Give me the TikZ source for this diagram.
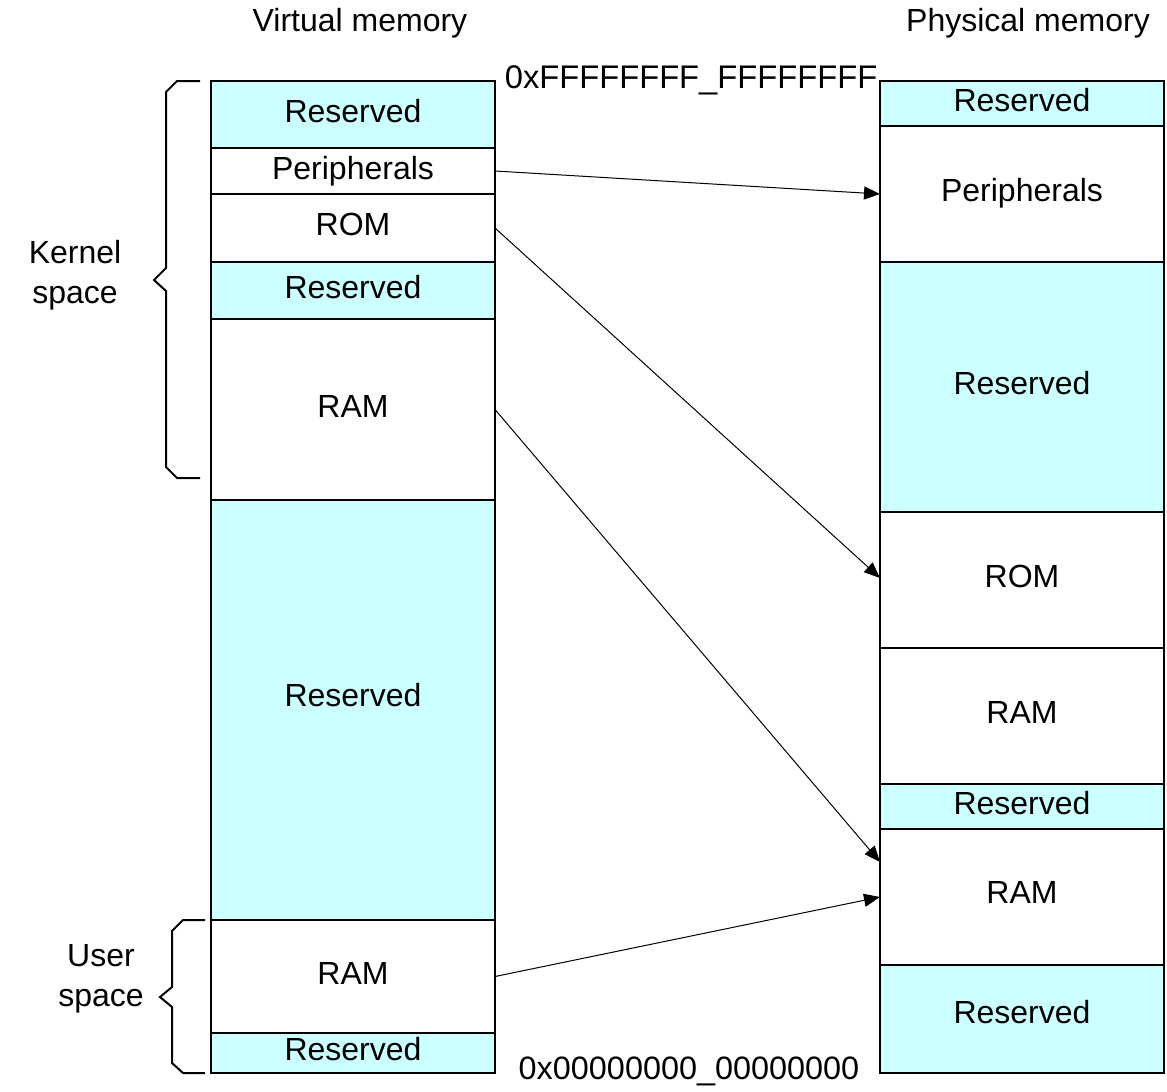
\documentclass[tikz,border=0pt]{standalone}
\usepackage{fontspec}
\setmainfont{Liberation Sans}
\usetikzlibrary{arrows.meta}
\definecolor{cyanfill}{HTML}{CCFFFF}
\begin{document}
\begin{tikzpicture}[x=1pt,y=-1pt,
  mem/.style={draw, line width=2pt, minimum width=284pt, inner sep=0pt, outer sep=0pt},
  res/.style={mem, fill=cyanfill},
  txt/.style={inner sep=0pt, text height=23pt, text depth=0pt, anchor=center, font=\fontsize{32}{38}\selectfont},
  conn/.style={line width=1pt, -{Triangle[length=16pt,width=13pt]}},
  brace/.style={line width=2pt, line join=miter}]
\useasboundingbox (0,0) rectangle (1167,1092);
% virtual column (x 211-495)
\node[res, minimum height=67pt]  (vRes1) at (353,114.5) {};
\node[mem, minimum height=46pt]  (vPer)  at (353,171) {};
\node[mem, minimum height=68pt]  (vROM)  at (353,228) {};
\node[res, minimum height=57pt]  (vRes2) at (353,290.5) {};
\node[mem, minimum height=181pt] (vRAM)  at (353,409.5) {};
\node[res, minimum height=420pt] (vRes3) at (353,710) {};
\node[mem, minimum height=113pt] (vURAM) at (353,976.5) {};
\node[res, minimum height=40pt]  (vRes4) at (353,1053) {};
% physical column (x 880-1164)
\node[res, minimum height=45pt]  (pRes1) at (1022,103.5) {};
\node[mem, minimum height=136pt] (pPer)  at (1022,194) {};
\node[res, minimum height=250pt] (pRes2) at (1022,387) {};
\node[mem, minimum height=136pt] (pROM)  at (1022,580) {};
\node[mem, minimum height=136pt] (pRAM1) at (1022,716) {};
\node[res, minimum height=45pt]  (pRes3) at (1022,806.5) {};
\node[mem, minimum height=136pt] (pRAM2) at (1022,897) {};
\node[res, minimum height=108pt] (pRes4) at (1022,1019) {};
% texts
\node[txt] (tvRes1) at (353,111) {Reserved};
\node[txt] (tvPer)  at (353,168) {Peripherals};
\node[txt] (tvROM)  at (353,224) {ROM};
\node[txt] (tvRes2) at (353,287) {Reserved};
\node[txt] (tvRAM)  at (353,406) {RAM};
\node[txt] (tvRes3) at (353,695) {Reserved};
\node[txt] (tvURAM) at (353,973) {RAM};
\node[txt] (tvRes4) at (353,1049) {Reserved};
\node[txt] (tpRes1) at (1022,100) {Reserved};
\node[txt] (tpPer)  at (1022,190) {Peripherals};
\node[txt] (tpRes2) at (1022,383) {Reserved};
\node[txt] (tpROM)  at (1022,576) {ROM};
\node[txt] (tpRAM1) at (1022,712) {RAM};
\node[txt] (tpRes3) at (1022,803) {Reserved};
\node[txt] (tpRAM2) at (1022,892) {RAM};
\node[txt] (tpRes4) at (1022,1012) {Reserved};
% headings
\node[txt] (hVirt) at (360,20) {Virtual memory};
\node[txt] (hPhys) at (1028,20) {Physical memory};
\node[txt, font=\fontsize{32.7}{38}\selectfont] (aTop) at (691,77) {0xFFFFFFFF\_FFFFFFFF};
\node[txt, font=\fontsize{32.4}{38}\selectfont] (aBot) at (689,1068) {0x00000000\_00000000};
\node[txt] (kern1) at (75,252) {Kernel};
\node[txt] (kern2) at (75,292) {space};
\node[txt] (user1) at (101,955) {User};
\node[txt] (user2) at (101,995) {space};
% braces
\draw[brace] (200,81) -- (177,81) -- (166,92) -- (166,268) -- (154,280) -- (166,291) -- (166,467) -- (177,478) -- (200,478);
\draw[brace] (205,920) -- (183,920) -- (172,931) -- (172,987) -- (160,997) -- (172,1007) -- (172,1063) -- (183,1073) -- (205,1073);
% connectors
\draw[conn] (vPer.east) -- (pPer.west);
\draw[conn] (vROM.east) -- ([yshift=2pt]pROM.west);
\draw[conn] (vRAM.east) -- ([yshift=35pt]pRAM2.west);
\draw[conn] (vURAM.east) -- (pRAM2.west);
\end{tikzpicture}
\end{document}
